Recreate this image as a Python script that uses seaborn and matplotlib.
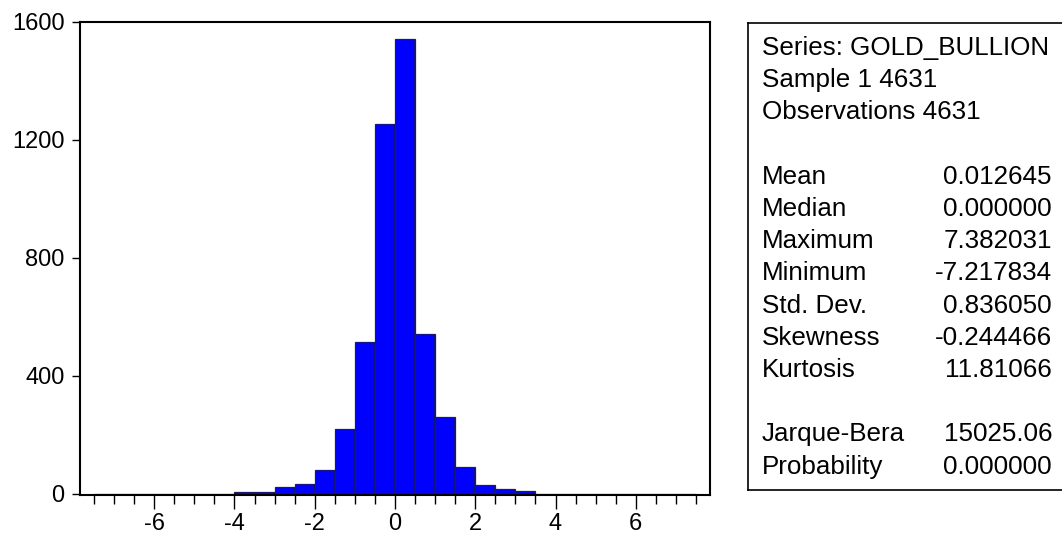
import numpy as np
import pandas as pd
import matplotlib
matplotlib.use("Agg")
import matplotlib.pyplot as plt
import seaborn as sns

# ============================================================
# DATA - histogram of GOLD_BULLION returns
# ============================================================
bin_edges = [-7.5, -7.0, -6.5, -6.0, -5.5, -5.0, -4.5, -4.0, -3.5, -3.0,
             -2.5, -2.0, -1.5, -1.0, -0.5, 0.0, 0.5, 1.0, 1.5, 2.0,
             2.5, 3.0, 3.5, 4.0, 4.5, 5.0, 5.5, 6.0, 6.5, 7.0, 7.5]
counts = [0, 0, 0, 0, 0, 0, 0, 5, 5, 23,
          33, 79, 218, 513, 1253, 1544, 541, 258, 90, 30,
          16, 8, 0, 0, 0, 0, 0, 0, 0, 0]

y_ticks = [0, 400, 800, 1200, 1600]
x_major = [-6, -4, -2, 0, 2, 4, 6]

stat_labels = ["Series: GOLD_BULLION", "Sample 1 4631", "Observations 4631",
               "Mean", "Median", "Maximum", "Minimum", "Std. Dev.",
               "Skewness", "Kurtosis", "Jarque-Bera", "Probability"]
stat_values = ["", "", "",
               "0.012645", "0.000000", "7.382031", "-7.217834", "0.836050",
               "-0.244466", "11.81066", "15025.06", "0.000000"]
stat_rows = [0, 1, 2, 4, 5, 6, 7, 8, 9, 10, 12, 13]

# ============================================================
# SETUP
# ============================================================
sns.set_style("ticks")
plt.rcParams["font.family"] = ["Liberation Sans", "DejaVu Sans"]
plt.rcParams["text.color"] = "black"
plt.rcParams["xtick.color"] = "black"
plt.rcParams["ytick.color"] = "black"
plt.rcParams["xtick.labelcolor"] = "black"
plt.rcParams["ytick.labelcolor"] = "black"

W, H = 1062, 539
fig = plt.figure(figsize=(W / 100, H / 100), dpi=100)

# plot area in pixels: x 80..710, y 22..495
ax = fig.add_axes([80 / W, 1 - 495 / H, 630 / W, (495 - 22) / H])

df = pd.DataFrame({
    "mid": [(bin_edges[i] + bin_edges[i + 1]) / 2 for i in range(len(counts))],
    "n": counts,
})
sns.histplot(data=df, x="mid", weights="n", bins=bin_edges,
             color="#0000FF", alpha=1, edgecolor="#222222", linewidth=0.9, ax=ax)

ax.set_xlim(-7.85, 7.85)
ax.set_ylim(-5, 1600)
ax.set_xlabel(""); ax.set_ylabel("")
ax.set_yticks(y_ticks)
ax.set_xticks(x_major)
ax.set_xticklabels([str(v) for v in x_major])
ax.set_xticks(np.arange(-7.5, 7.51, 0.5), minor=True)
ax.tick_params(axis="y", length=6, width=1, pad=5, labelsize=17, direction="out")
ax.tick_params(axis="x", which="major", length=10, width=1, pad=3, labelsize=17, direction="out")
ax.tick_params(axis="x", which="minor", length=6.5, width=1, direction="out")
for s in ax.spines.values():
    s.set_visible(True)
    s.set_linewidth(1.5)
    s.set_color("black")

# ============================================================
# STATS BOX
# ============================================================
box = fig.add_axes([748 / W, 1 - 490 / H, (1075 - 748) / W, (490 - 23) / H])
box.set_xticks([]); box.set_yticks([])
box.set_facecolor("white")
for s in box.spines.values():
    s.set_linewidth(1.2)
    s.set_color("black")

for lab, val, r in zip(stat_labels, stat_values, stat_rows):
    yc = 1 - (48 + 32.2 * r) / H
    fig.text(762 / W, yc, lab, fontsize=18.7, va="center", ha="left")
    if val:
        fig.text(1052 / W, yc, val, fontsize=18.7, va="center", ha="right")

fig.savefig("out.png", dpi=100)
